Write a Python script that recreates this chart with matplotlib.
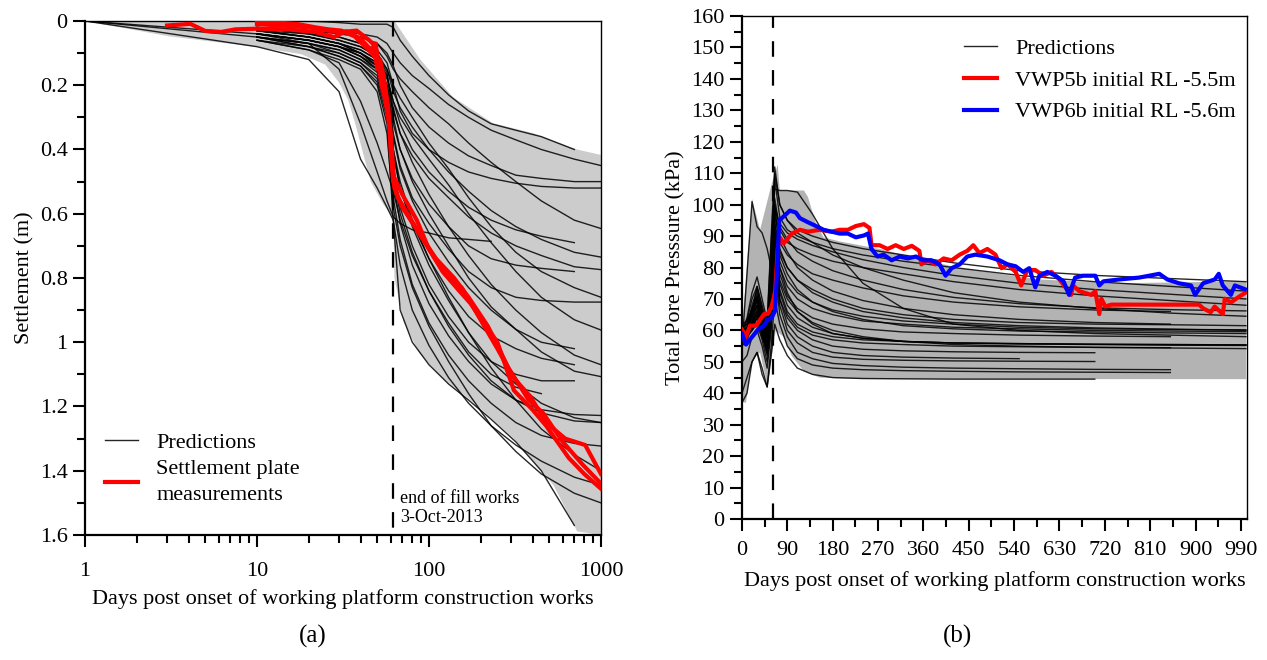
import numpy as np
import matplotlib
matplotlib.use("Agg")
import matplotlib.pyplot as plt
from matplotlib.ticker import MultipleLocator, LogLocator, NullFormatter

plt.rcParams['font.family'] = ['Liberation Serif', 'DejaVu Serif']
plt.rcParams['mathtext.fontset'] = 'stix'

nan = np.nan

# ---------------- (a) settlement data ----------------
days_a = [1, 10, 20, 30, 40, 50, 57, 62, 68, 80, 100, 130, 170, 230, 320, 450, 700, 1000]

pred_a = [
    [0, 0, 0, 0.005, 0.01, 0.01, 0.01, 0.02, 0.06, 0.11, 0.17, 0.23, 0.28, 0.32, 0.34, 0.36, 0.40, nan],
    [nan, 0.01, 0.02, 0.03, 0.04, 0.05, 0.07, 0.10, 0.13, 0.17, 0.21, 0.26, 0.30, 0.34, 0.37, 0.40, 0.43, 0.45],
    [nan, 0.02, 0.03, 0.04, 0.05, 0.07, 0.10, 0.14, 0.20, 0.27, 0.33, 0.38, 0.42, 0.45, 0.48, 0.49, 0.50, 0.50],
    [nan, 0.03, 0.04, 0.05, 0.07, 0.09, 0.13, 0.20, 0.28, 0.35, 0.40, 0.44, 0.47, 0.49, 0.505, 0.515, 0.52, 0.52],
    [nan, 0.01, 0.02, 0.03, 0.05, 0.07, 0.11, 0.15, 0.18, 0.22, 0.27, 0.32, 0.38, 0.44, 0.50, 0.56, 0.62, 0.646],
    [nan, 0.04, 0.06, 0.08, 0.10, 0.13, 0.18, 0.25, 0.32, 0.40, 0.47, 0.53, 0.58, 0.62, 0.65, 0.67, 0.69, nan],
    [nan, 0.02, 0.03, 0.05, 0.07, 0.10, 0.15, 0.22, 0.27, 0.33, 0.40, 0.47, 0.53, 0.59, 0.64, 0.68, 0.72, 0.735],
    [nan, 0.03, 0.05, 0.07, 0.09, 0.12, 0.17, 0.27, 0.35, 0.42, 0.49, 0.55, 0.61, 0.66, 0.70, 0.73, 0.765, 0.774],
    [nan, 0.02, 0.04, 0.06, 0.08, 0.11, 0.16, 0.30, 0.40, 0.49, 0.57, 0.64, 0.70, 0.74, 0.76, 0.77, 0.78, nan],
    [nan, 0.04, 0.06, 0.08, 0.10, 0.13, 0.20, 0.35, 0.45, 0.55, 0.63, 0.71, 0.78, 0.83, 0.86, 0.87, 0.875, 0.875],
    [nan, 0.03, 0.05, 0.07, 0.09, 0.12, 0.17, 0.25, 0.30, 0.36, 0.43, 0.51, 0.60, 0.69, 0.78, 0.86, 0.93, 0.962],
    [nan, 0.05, 0.07, 0.09, 0.12, 0.15, 0.22, 0.40, 0.52, 0.63, 0.74, 0.84, 0.92, 0.98, 1.02, 1.05, 1.07, nan],
    [nan, 0.04, 0.06, 0.08, 0.11, 0.14, 0.20, 0.32, 0.40, 0.50, 0.60, 0.70, 0.80, 0.89, 0.96, 1.03, 1.09, 1.107],
    [nan, 0.05, 0.07, 0.09, 0.12, 0.16, 0.24, 0.45, 0.58, 0.70, 0.82, 0.92, 1.00, 1.06, 1.10, 1.12, 1.12, nan],
    [nan, 0.06, 0.08, 0.10, 0.13, 0.17, 0.26, 0.50, 0.63, 0.76, 0.88, 0.98, 1.06, 1.13, 1.18, 1.21, 1.225, 1.228],
    [nan, 0.04, 0.06, 0.08, 0.11, 0.15, 0.23, 0.42, 0.52, 0.64, 0.76, 0.87, 0.97, 1.06, 1.13, 1.19, 1.235, 1.25],
    [nan, 0.05, 0.07, 0.10, 0.13, 0.18, 0.28, 0.55, 0.68, 0.82, 0.94, 1.04, 1.12, 1.19, 1.25, 1.29, 1.315, 1.323],
    [nan, 0.03, 0.05, 0.07, 0.10, 0.14, 0.22, 0.40, 0.50, 0.62, 0.74, 0.86, 0.97, 1.08, 1.18, 1.27, 1.35, 1.40],
    [0, 0.05, 0.08, 0.11, 0.14, 0.20, 0.32, 0.62, 0.76, 0.90, 1.01, 1.11, 1.19, 1.26, 1.32, 1.37, 1.42, 1.445],
    [nan, 0.06, 0.09, 0.12, 0.15, 0.22, 0.35, 0.58, 0.70, 0.83, 0.95, 1.06, 1.16, 1.26, 1.34, 1.41, 1.47, 1.50],
    [0, 0.08, 0.12, 0.22, 0.43, 0.52, 0.58, 0.62, 0.90, 1.00, 1.07, 1.13, 1.18, 1.24, 1.31, 1.40, 1.57, nan],
    [0, 0.04, 0.07, 0.15, 0.32, 0.47, 0.56, 0.61, 0.63, 0.65, 0.66, 0.675, 0.68, 0.686, nan, nan, nan, nan],
    [nan, 0.06, 0.09, 0.13, 0.25, 0.38, 0.47, 0.53, 0.62, 0.73, 0.84, 0.94, 1.03, 1.10, 1.14, 1.16, nan, nan],
    [nan, 0.02, 0.04, 0.06, 0.08, 0.11, 0.15, 0.20, 0.24, 0.30, 0.38, 0.46, 0.55, 0.64, 0.72, 0.78, 0.83, 0.86],
    [nan, 0.04, 0.06, 0.08, 0.11, 0.15, 0.22, 0.36, 0.46, 0.56, 0.66, 0.75, 0.83, 0.90, 0.96, 1.00, 1.02, nan],
    [nan, 0.03, 0.05, 0.07, 0.10, 0.14, 0.20, 0.28, 0.35, 0.44, 0.54, 0.64, 0.73, 0.82, 0.90, 0.97, 1.04, 1.07],
    [nan, 0.05, 0.08, 0.11, 0.14, 0.19, 0.30, 0.48, 0.60, 0.72, 0.84, 0.95, 1.04, 1.12, 1.18, 1.22, 1.245, 1.25],
]

env_a_upper_d = [1, 63, 89, 138, 235, 402, 725, 1000]
env_a_upper_s = [0, 0, 0.12, 0.237, 0.318, 0.349, 0.40, 0.417]
env_a_lower_d = [1, 3.1, 10, 18, 25, 30, 34, 38, 42, 46, 54, 62, 63, 71, 88, 120, 184, 312, 530, 728, 1000]
env_a_lower_s = [0, 0.048, 0.081, 0.103, 0.136, 0.192, 0.247, 0.336, 0.425, 0.502, 0.569, 0.613,
                 0.80, 0.935, 1.034, 1.112, 1.19, 1.30, 1.445, 1.589, 1.6]

meas1_d = [3.0, 4.1, 5.0, 6.2, 7.5, 10, 15, 22, 28, 33, 40, 46, 49, 51, 53, 56, 59, 60.5, 62,
           70, 85, 100, 125, 155, 185, 250, 310, 390, 480, 620, 810, 1000]
meas1_s = [0.014, 0.009, 0.031, 0.034, 0.026, 0.024, 0.026, 0.035, 0.05, 0.032, 0.055, 0.09, 0.07,
           0.14, 0.2, 0.25, 0.33, 0.42, 0.48, 0.54, 0.62, 0.71, 0.79, 0.83, 0.90, 1.02, 1.11, 1.17,
           1.25, 1.30, 1.32, 1.41]
meas2_d = [10, 13, 17, 22, 26, 31, 37, 45, 50, 54, 58, 60, 62, 66, 75, 90, 120, 150, 175, 250,
           312, 400, 480, 650, 800, 1000]
meas2_s = [0.003, 0.005, 0.009, 0.02, 0.026, 0.03, 0.048, 0.092, 0.12, 0.16, 0.27, 0.41, 0.50,
           0.55, 0.60, 0.67, 0.78, 0.84, 0.88, 1.00, 1.15, 1.21, 1.26, 1.36, 1.41, 1.456]
meas3_d = [10, 15, 20, 30, 38, 45, 48, 50, 52, 56, 60, 63, 70, 85, 110, 140, 170, 220, 290, 380,
           460, 600, 780, 1000]
meas3_s = [0.01, 0.015, 0.02, 0.035, 0.03, 0.06, 0.075, 0.15, 0.12, 0.22, 0.35, 0.52, 0.58, 0.65,
           0.74, 0.80, 0.86, 0.95, 1.08, 1.18, 1.22, 1.31, 1.38, 1.44]

# ---------------- (b) pore pressure data ----------------
days_b = [0, 10, 20, 30, 40, 50, 58, 65, 75, 90, 110, 140, 180, 240, 320, 420, 550, 700, 850, 1000]

pred_b = [
    [60, 63, 70, 74, 68, 62, 88, 105, 104.5, 104.5, 104, 97, 86, 75, 67, 62, 60, 59, 58.5, 58],
    [60, 64, 72, 77, 70, 63, 90, 112, 100, 95, 92, 90, 88, 86, 84, 81.5, 79, 77.5, 76.5, 75.5],
    [58, 60, 68, 73, 66, 60, 80, 108, 96, 92, 90, 88, 86, 84, 82, 80, 77.5, 75.5, 74, 72.5],
    [57, 59, 66, 70, 64, 58, 78, 102, 92, 88, 86, 84, 82, 80, 78, 75.5, 73, 71, 69.5, 68],
    [60, 61, 65, 68, 62, 57, 70, 98, 88, 84, 81, 78, 76, 73.5, 71, 69, 67.5, 66.5, 66, nan],
    [59, 60, 64, 70, 63, 56, 72, 100, 85, 80, 76, 73, 70, 67, 65, 63.5, 62.5, 62, 61.8, 61.5],
    [58, 59, 62, 67, 60, 54, 68, 95, 82, 76, 72, 69, 66.5, 64.5, 63, 62, 61, 60.5, 60.3, 60.2],
    [61, 62, 66, 72, 66, 58, 75, 92, 80, 74, 70, 67, 65, 63, 62, 61, 60.5, 60, 59.8, 59.6],
    [56, 58, 63, 68, 62, 55, 70, 90, 78, 71, 67, 64, 62, 60.5, 59.5, 59, 58.5, 58.2, 58, nan],
    [55, 57, 61, 65, 60, 53, 66, 88, 75, 68, 64, 61, 59, 57.5, 56.5, 56, 55.7, 55.5, 55.3, 55.2],
    [57, 58, 60, 64, 58, 52, 64, 86, 72, 65, 61, 58.5, 57, 56, 55.5, 55, 54.8, 54.6, 54.5, nan],
    [60, 60, 63, 66, 61, 55, 68, 84, 70, 62, 58, 55, 53, 52, 51.5, 51.2, 51, nan, nan, nan],
    [58, 58, 60, 62, 57, 50, 62, 82, 68, 60, 56, 53, 51.5, 50.8, 50.5, 50.3, 50.2, 50.1, nan, nan],
    [50, 52, 58, 60, 55, 48, 60, 80, 65, 58, 53, 51, 49.5, 48.8, 48.3, 48, 47.8, 47.6, 47.5, nan],
    [37, 40, 50, 53, 46, 42, 52, 62, 57, 52, 48, 46, 45, 44.7, 44.6, 44.5, 44.5, 44.5, nan, nan],
    [62, 63, 67, 71, 65, 58, 74, 96, 90, 85, 80, 76, 72.5, 69.5, 67, 65, 63.5, 62.5, 62, nan],
    [59, 61, 66, 69, 63, 57, 72, 94, 86, 80, 76, 72, 69, 66, 64, 62.5, 61.5, 60.8, 60.4, 60],
    [60, 62, 67, 71, 64, 59, 76, 98, 94, 91, 89, 87, 85, 82.5, 80, 77.5, 75, 73, 71.5, 70],
    [61, 62, 65, 70, 64, 57, 73, 100, 93, 89, 85, 82, 79, 76, 73, 70.5, 68.5, 67.2, 66.6, 66.2],
    [58, 59, 62, 66, 60, 55, 68, 90, 76, 70, 66, 62.5, 60, 58, 56.5, 55.5, 55, 54.6, 54.4, 54.2],
    [57, 58, 62, 65, 59, 53, 65, 87, 73, 66, 62, 59.5, 58, 57, 56.5, 56, 55.8, 55.6, 55.5, 55.4],
    [56, 58, 61, 64, 58, 54, 63, 85, 70, 64, 60, 57, 55, 54, 53.5, 53.2, 53, 52.9, nan, nan],
    [60, 61, 66, 74, 67, 60, 80, 110, 100, 95, 91, 88, 84, 80, 76, 72, 69, 67, 65.5, 64.5],
    [59, 61, 64, 68, 62, 56, 71, 92, 84, 78, 73, 69, 66, 63.5, 61.5, 60.5, 59.8, 59.5, 59.2, 59],
    [55, 78, 101, 93, 91, 86, 80, 88, 80, 72, 66, 62, 59, 57.5, 56.5, 56, 55.8, 55.6, 55.5, 55.4],
    [40, 45, 50, 53, 48, 42, 55, 70, 62, 55, 51, 49, 48, 47.5, 47.2, 47, 46.8, 46.7, 46.6, nan],
]

env_b_upper_d = [0, 20, 36, 59, 71, 75, 123, 131, 146, 162, 194, 273, 432, 590, 748, 1000]
env_b_upper_p = [60, 101.8, 92, 106.6, 112.7, 104.5, 104.5, 102.4, 94.4, 89.6, 88.3, 85.9, 79.8, 76.2, 75.0, 75.6]
env_b_lower_d = [0, 8, 20, 36, 51, 59, 67, 83, 99, 123, 154, 234, 1000]
env_b_lower_p = [37.2, 37, 50.6, 53, 42, 51.8, 60, 57.9, 51.8, 47, 45, 44.5, 44.5]

vwp5_d = [0, 8, 16, 28, 36, 44, 51, 59, 66, 71, 75, 83, 99, 115, 131, 154, 178, 194, 210, 226,
          242, 253, 257, 273, 289, 305, 321, 337, 352, 356, 368, 384, 400, 416, 432, 447, 459,
          471, 487, 503, 515, 527, 543, 554, 566, 582, 598, 614, 630, 653, 657, 669, 693, 701,
          709, 713, 721, 733, 748, 828, 907, 915, 930, 938, 954, 958, 970, 986, 998]
vwp5_p = [60.3, 57.9, 61.5, 61.5, 63.4, 65.2, 65.2, 67.6, 72.5, 85.9, 89.6, 87.7, 90.8, 92, 91.4,
          92, 91.4, 92, 92, 93.2, 93.8, 92.6, 87.1, 87.1, 85.9, 87.1, 85.9, 86.9, 85.3, 81, 82.3,
          81, 82.9, 82.3, 84.1, 85.3, 87.1, 84.6, 85.9, 84.1, 79.8, 81, 78.6, 74.3, 79.2, 79.2,
          77.4, 78.6, 76.2, 71.3, 74.3, 72.5, 71.3, 72.5, 65.2, 70.1, 67.6, 68.2, 68.2, 68.2,
          68.2, 67, 65.8, 67.6, 65.2, 70.1, 68.9, 70.7, 71.9]
vwp6_d = [0, 8, 20, 32, 44, 51, 59, 66, 70, 74, 83, 95, 107, 115, 131, 147, 162, 178, 194, 210,
          226, 242, 250, 257, 269, 281, 297, 313, 329, 345, 360, 376, 392, 404, 416, 432, 447,
          463, 487, 511, 527, 543, 558, 570, 582, 590, 606, 622, 638, 649, 661, 677, 701, 709,
          717, 748, 788, 828, 844, 867, 891, 899, 915, 938, 946, 954, 970, 978, 998]
vwp6_p = [59, 55.5, 57.9, 60.3, 61.5, 63.4, 64, 66.4, 79.8, 95, 96.3, 98.1, 97.5, 95.7, 94.4,
          93.2, 92, 91.4, 90.8, 90.8, 89.6, 90.2, 90.8, 85.9, 83.5, 84.1, 82.3, 83.5, 82.9, 83.5,
          82.3, 82.3, 81, 77.4, 79.8, 81, 83.5, 84.1, 83.5, 82.3, 81, 80.4, 78.6, 79.8, 73.7,
          77.4, 78.6, 77.4, 75.6, 71.3, 76.8, 77.4, 77.4, 74.3, 75.6, 76.2, 76.8, 78, 76.2, 75,
          74.3, 71.3, 75, 76.2, 78, 74.3, 71.3, 74.3, 73.1]

fill_end_day = 62

FS = 16
fig = plt.figure(figsize=(12.67, 6.6), dpi=100)

# ================= panel (a) =================
ax1 = fig.add_axes([0.0671, 0.1894, 0.4072, 0.7788])
ax1.fill(env_a_upper_d + env_a_lower_d[::-1], env_a_upper_s + env_a_lower_s[::-1],
         color='#cccccc', lw=0, zorder=1)
for i, s in enumerate(pred_a):
    ax1.plot(days_a, s, color='black', lw=1.0, alpha=0.85, zorder=2,
             label='Predictions' if i == 0 else None)
ax1.plot(meas1_d, meas1_s, color='red', lw=3, zorder=4, label='Settlement plate\nmeasurements')
ax1.plot(meas2_d, meas2_s, color='red', lw=3, zorder=4)
ax1.plot(meas3_d, meas3_s, color='red', lw=3, zorder=4)
ax1.plot([fill_end_day, fill_end_day], [0, 1.58], color='black', lw=1.6, dashes=(7, 6), zorder=3)
ax1.text(68, 1.485, 'end of fill works', fontsize=13, va='center', ha='left')
ax1.text(68, 1.547, '3-Oct-2013', fontsize=13, va='center', ha='left')

ax1.set_xscale('log')
ax1.set_xlim(1, 1000)
ax1.set_ylim(1.6, 0)
ax1.set_xticks([1, 10, 100, 1000])
ax1.set_xticklabels(['1', '10', '100', '1000'])
ax1.xaxis.set_minor_locator(LogLocator(base=10, subs=np.arange(2, 10)))
ax1.xaxis.set_minor_formatter(NullFormatter())
ax1.set_yticks([0, 0.2, 0.4, 0.6, 0.8, 1, 1.2, 1.4, 1.6])
ax1.set_yticklabels(['0', '0.2', '0.4', '0.6', '0.8', '1', '1.2', '1.4', '1.6'])
ax1.yaxis.set_minor_locator(MultipleLocator(0.1))
ax1.set_xlabel('Days post onset of working platform construction works', fontsize=FS, labelpad=6)
ax1.set_ylabel('Settlement (m)', fontsize=FS, labelpad=4)
leg1 = ax1.legend(loc='lower left', bbox_to_anchor=(0.0, 0.02), frameon=False, fontsize=FS,
                  handlelength=1.5, handletextpad=0.8, labelspacing=0.35)
leg1.get_texts()[1].set_linespacing(1.45)

# ================= panel (b) =================
ax2 = fig.add_axes([0.5856, 0.2136, 0.3986, 0.7621])
ax2.fill(env_b_upper_d + env_b_lower_d[::-1], env_b_upper_p + env_b_lower_p[::-1],
         color='#b3b3b3', lw=0, zorder=1)
for i, p in enumerate(pred_b):
    ax2.plot(days_b, p, color='black', lw=1.0, alpha=0.85, zorder=2,
             label='Predictions' if i == 0 else None)
ax2.plot(vwp5_d, vwp5_p, color='red', lw=3, zorder=4, label='VWP5b initial RL -5.5m')
ax2.plot(vwp6_d, vwp6_p, color='blue', lw=3, zorder=5, label='VWP6b initial RL -5.6m')
ax2.plot([fill_end_day, fill_end_day], [0, 160], color='black', lw=1.6, dashes=(7, 6), zorder=3)

ax2.set_xlim(0, 1002)
ax2.set_ylim(0, 160)
ax2.xaxis.set_major_locator(MultipleLocator(90))
ax2.xaxis.set_minor_locator(MultipleLocator(45))
ax2.yaxis.set_major_locator(MultipleLocator(10))
ax2.yaxis.set_minor_locator(MultipleLocator(5))
ax2.set_xlabel('Days post onset of working platform construction works', fontsize=FS, labelpad=8)
ax2.set_ylabel('Total Pore Presssure (kPa)', fontsize=FS, labelpad=4)
ax2.legend(loc='upper left', bbox_to_anchor=(0.40, 0.995), frameon=False, fontsize=FS,
           handlelength=1.5, handletextpad=0.8, labelspacing=0.5)

for ax in (ax1, ax2):
    ax.tick_params(which='major', direction='out', length=8.5, width=1.5, labelsize=FS,
                   top=False, right=False)
    ax.tick_params(which='minor', direction='out', length=6, width=1.5, top=False, right=False)
    ax.tick_params(axis='y', which='major', pad=4)
    for side in ('left', 'bottom'):
        ax.spines[side].set_linewidth(1.6)
    for side in ('top', 'right'):
        ax.spines[side].set_linewidth(1.0)
ax1.tick_params(axis='x', which='major', pad=11)
ax2.tick_params(axis='x', which='major', pad=7)

fig.text(313 / 1267, 1 - 636 / 660, '(a)', fontsize=18, ha='center', va='center')
fig.text(957 / 1267, 1 - 636 / 660, '(b)', fontsize=18, ha='center', va='center')

fig.savefig('out.png', dpi=100)
